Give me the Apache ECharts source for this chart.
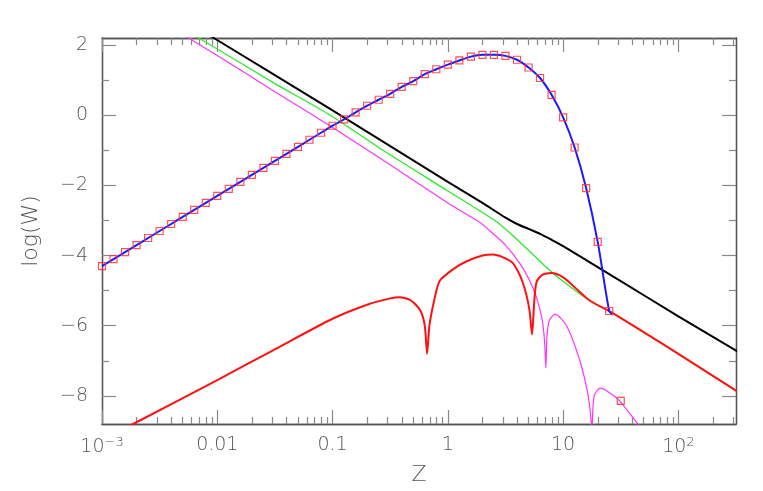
<!DOCTYPE html>
<html><head><meta charset="utf-8">
<script src="https://cdn.jsdelivr.net/npm/echarts@6/dist/echarts.min.js"></script>
<style>html,body{margin:0;background:#fff}#c{width:763px;height:491px}</style>
</head><body><div id="c"></div>
<script>
// values: x as log10(Z), y as log(W)
const markerLogZ = [-3,-2.9,-2.8,-2.7,-2.6,-2.5,-2.4,-2.3,-2.2,-2.1,-2,-1.9,-1.8,-1.7,-1.6,-1.5,-1.4,-1.3,-1.2,-1.1,-1,-0.9,-0.8,-0.7,-0.6,-0.5,-0.4,-0.3,-0.2,-0.1,0,0.1,0.2,0.3,0.4,0.5,0.6,0.7,0.8,0.9,1,1.1,1.2,1.3,1.4,1.5];
const markerLogW = [-4.3,-4.1,-3.9,-3.7,-3.5,-3.3,-3.1,-2.9,-2.7,-2.5,-2.3,-2.1,-1.9,-1.7,-1.5,-1.3,-1.1,-0.9,-0.7,-0.5,-0.3,-0.12,0.08,0.27,0.44,0.61,0.81,0.97,1.17,1.31,1.44,1.56,1.67,1.72,1.72,1.69,1.58,1.36,1.06,0.58,-0.06,-0.92,-2.08,-3.61,-5.58,-8.14];
const blueTail = [[1.43,-5.69]];
const blackCurve = [[-2.1,2.34],[-2.03,2.2],[-1,0.14],[0,-1.9],[0.3,-2.5],[0.5,-2.92],[0.6,-3.1],[0.7,-3.24],[0.8,-3.38],[0.9,-3.55],[1.0,-3.73],[1.2,-4.13],[1.5,-4.73],[2,-5.73],[2.49,-6.69],[2.6,-6.91]];
const greenCurve = [[-2.25,2.37],[-2.16,2.2],[-1.5,0.9],[-1.02,0],[-0.59,-0.94],[0,-2.16],[0.42,-3.03],[0.56,-3.42],[0.7,-3.85],[0.9,-4.47],[1.05,-4.86],[1.23,-5.28],[1.43,-5.64],[2.49,-7.83]];
const magentaCurve = [[-2.3,2.3],[-2.25,2.2],[-2,1.7],[-1.5,0.67],[-1.02,-0.31],[-0.59,-1.22],[0,-2.5],[0.28,-3.06],[0.36,-3.28],[0.5,-3.7],[0.62,-4.2],[0.7,-4.65],[0.77,-5.2],[0.82,-5.86],[0.84,-6.5],[0.85,-7.2],[0.86,-6.3],[0.88,-5.85],[0.93,-5.67],[1.03,-6.0],[1.14,-6.94],[1.21,-7.86],[1.24,-8.6],[1.25,-9.2],[1.255,-8.6],[1.27,-8.0],[1.32,-7.78],[1.4,-7.9],[1.49,-8.14],[1.65,-8.8],[1.7,-8.95]];
const redCurve = [[-3,-9.27],[-2.73,-8.8],[-2,-7.55],[-1.5,-6.67],[-1,-5.8],[-0.7,-5.4],[-0.5,-5.22],[-0.42,-5.19],[-0.32,-5.28],[-0.24,-5.56],[-0.2,-6.0],[-0.18,-6.8],[-0.16,-6.0],[-0.12,-5.3],[-0.07,-4.72],[0.05,-4.38],[0.16,-4.17],[0.3,-4.0],[0.39,-3.97],[0.48,-4.05],[0.56,-4.2],[0.63,-4.6],[0.68,-5.1],[0.71,-5.6],[0.73,-6.25],[0.75,-5.3],[0.77,-4.75],[0.82,-4.55],[0.9,-4.5],[1.0,-4.62],[1.1,-4.9],[1.23,-5.28],[1.43,-5.64],[2.0,-6.8],[2.49,-7.83],[2.6,-8.05]];
const xMajor = [0.001,0.01,0.1,1,10,100];
const xLabels = ['{b|10}{s|−3}','0.01','0.1','1','10','{b|10}{s|2}'];
const xMinor = [];
[0.001,0.01,0.1,1,10,100].forEach(d=>{for(let k=2;k<=9;k++){const v=d*k; if(v<=316) xMinor.push(+v.toPrecision(3));}});
const yMajor = [-8,-6,-4,-2,0,2];
const yMinor = [-7,-5,-3,-1,1];

const toZ = p => [Math.pow(10,p[0]), p[1]];
const font = 'DejaVu Sans';
const txt = {color:'#555', fontFamily:font, fontSize:19, fontWeight:'lighter'};
const line = {onZero:false, lineStyle:{color:'#555',width:1.3}};
function xAx(pos, vals, len, labels){
  return {type:'log', logBase:10, min:0.001, max:316, position:pos, gridIndex:0,
    axisLine:{show:true,...line}, splitLine:{show:false}, minorTick:{show:false},
    axisTick:{show:true, inside:true, length:len, customValues:vals, lineStyle:{color:'#888',width:1.2}},
    axisLabel:{show:labels, customValues:xMajor, margin:12, ...txt,
      formatter:v=>{const i=xMajor.findIndex(m=>Math.abs(Math.log10(m)-Math.log10(v))<1e-6);return i>=0?xLabels[i]:'';},
      rich:{b:{...txt}, s:{...txt,fontSize:13,verticalAlign:'top',padding:[0,0,10,0]}}},
    name: pos==='bottom'&&labels?'Z':'', nameLocation:'middle', nameGap:40, nameTextStyle:{...txt,fontSize:22}};
}
function yAx(pos, vals, len, labels){
  return {type:'value', min:-8.8, max:2.2, position:pos, gridIndex:0,
    axisLine:{show:true,...line}, splitLine:{show:false},
    axisTick:{show:true, inside:true, length:len, customValues:vals, lineStyle:{color:'#888',width:1.2}},
    axisLabel:{show:labels, customValues:yMajor, margin:14, ...txt, formatter:v=>String(v).replace('-','−')},
    name: pos==='left'&&labels?'log(W)':'', nameLocation:'middle', nameGap:60, nameRotate:90, nameTextStyle:{...txt,fontSize:22}};
}
const chart = echarts.init(document.getElementById('c'));
const mk = (data,color,width,z)=>({type:'line', data:data.map(toZ), showSymbol:false, symbol:'none', smooth:0.25, lineStyle:{color,width}, z, clip:true, animation:false});
chart.setOption({
  animation:false,
  grid:{left:102,right:27,top:38,bottom:60},
  xAxis:[xAx('bottom',xMajor,14,true), xAx('bottom',xMinor,7,false), xAx('top',xMajor,14,false), xAx('top',xMinor,7,false)],
  yAxis:[yAx('left',yMajor,14,true), yAx('left',yMinor,7,false), yAx('right',yMajor,14,false), yAx('right',yMinor,7,false)],
  series:[
    mk(greenCurve,'#22ee22',1.2,2),
    mk(magentaCurve,'#ff33ff',1.2,3),
    mk(blackCurve,'#000000',2,4),
    mk(redCurve,'#ff1111',2,5),
    {type:'line', data:markerLogZ.slice(0,-1).map((x,i)=>[x,markerLogW[i]]).concat(blueTail).map(toZ), symbol:'none', smooth:0.3, lineStyle:{color:'#1a1aff',width:2}, z:6, clip:true},
    {type:'scatter', data:markerLogZ.map((x,i)=>toZ([x,markerLogW[i]])), symbol:'rect', symbolSize:7,
     itemStyle:{color:'rgba(0,0,0,0)', borderColor:'#ff3333', borderWidth:1.2, opacity:0.85}, z:7, clip:true}
  ]
});
</script></body></html>
